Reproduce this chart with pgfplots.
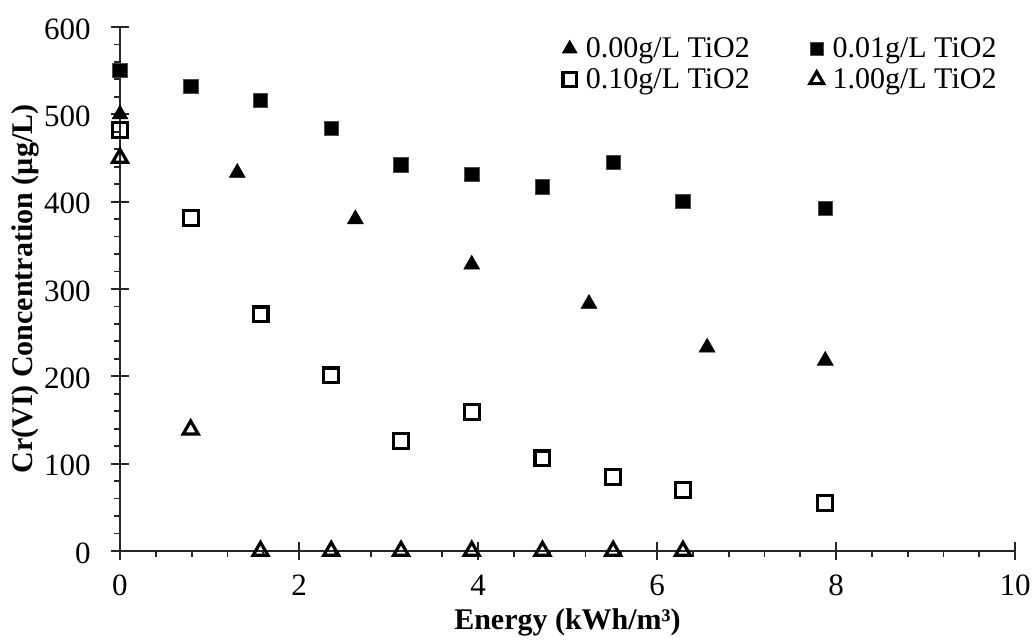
\documentclass[border=0pt]{standalone}
\usepackage{fontspec}
\setmainfont{Liberation Serif}
\usepackage{pgfplots}
\pgfplotsset{compat=1.18}
\begin{document}
\begin{tikzpicture}
\useasboundingbox (-60pt,-44.5pt) rectangle (456pt,275.5pt);
\begin{axis}[
  at={(0pt,0pt)}, anchor=south west,
  scale only axis, width=447.5pt, height=262pt,
  xmin=0, xmax=10, ymin=0, ymax=600,
  axis lines*=left,
  axis line style={draw=none},
  xtick={0.4,0.8,1.2,1.6,2.4,2.8,3.2,3.6,4.4,4.8,5.2,5.6,6.4,6.8,7.2,7.6,8.4,8.8,9.2,9.6},
  ytick={20,40,60,80,120,140,160,180,220,240,260,280,320,340,360,380,420,440,460,480,520,540,560,580},
  xticklabels={}, yticklabels={},
  minor tick num=0,
  tick align=outside, major tick length=3pt,
  tick style={line width=0.9pt, black!85},
]
\end{axis}
\begin{axis}[
  at={(0pt,0pt)}, anchor=south west,
  scale only axis, width=447.5pt, height=262pt,
  xmin=0, xmax=10, ymin=0, ymax=600,
  axis lines*=left,
  axis line style={line width=0.9pt, black!85},
  xtick={0,2,...,10}, ytick={0,100,...,600},
  minor tick num=0,
  tick align=center, major tick length=9pt,
  tick style={line width=0.9pt, black!85},
  clip=false,
  /pgf/number format/assume math mode=true,
  tick label style={font=\fontsize{15.5}{18}\selectfont},
  xticklabel style={anchor=center, yshift=-12.5pt},
  yticklabel style={anchor=east, inner sep=0pt, xshift=-10pt, yshift=-1pt},
  xlabel={Energy (kWh/m³)},
  ylabel={Cr(VI) Concentration (µg/L)},
  label style={font=\bfseries\fontsize{15}{18}\selectfont},
  xlabel style={at={(axis description cs:0.5,-0.137)}, anchor=center},
  ylabel style={at={(axis description cs:-0.106,0.5)}, anchor=center},
  legend columns=2,
  legend image code/.code={\draw[#1, every mark/.append style={scale=0.92}] plot coordinates {(0pt,0pt)};},
  legend style={draw=none, fill=none, inner sep=0pt,
    at={(axis description cs:0.982,0.985)}, anchor=north east,
    font=\fontsize{15}{18}\selectfont,
    nodes={inner sep=1pt}, row sep=2pt,
    /tikz/every odd column/.append style={column sep=3.5pt},
    /tikz/every even column/.append style={column sep=29pt}},
]
\addplot[only marks, mark=triangle*, mark size=4.5pt, mark options={fill=black, draw=black, line width=0.4pt}]
  coordinates {(0,500) (1.31,433) (2.63,380) (3.93,328) (5.24,283) (6.56,233) (7.88,218)};
\addlegendentry{0.00g/L TiO2}
\addplot[only marks, mark=square*, mark size=3.6pt, mark options={fill=black, draw=black!70, line width=0.4pt}]
  coordinates {(0,550) (0.79,532) (1.57,516) (2.36,484) (3.14,442) (3.93,431) (4.72,417) (5.51,445) (6.29,400) (7.88,392)};
\addlegendentry{0.01g/L TiO2}
\addplot[only marks, mark=square, mark size=3.7pt, mark options={fill=white, draw=black, line width=1.6pt}]
  coordinates {(0,482) (0.79,381) (1.57,271) (2.36,201) (3.14,126) (3.93,159) (4.72,106) (5.51,85) (6.29,70) (7.88,55)};
\addlegendentry{0.10g/L TiO2}
\addplot[only marks, mark=triangle, mark size=4.3pt, mark options={fill=white, draw=black, line width=1.6pt}]
  coordinates {(0,450) (0.79,139) (1.57,0) (2.36,0) (3.14,0) (3.93,0) (4.72,0) (5.51,0) (6.29,0)};
\addlegendentry{1.00g/L TiO2}
\end{axis}
\end{tikzpicture}
\end{document}
